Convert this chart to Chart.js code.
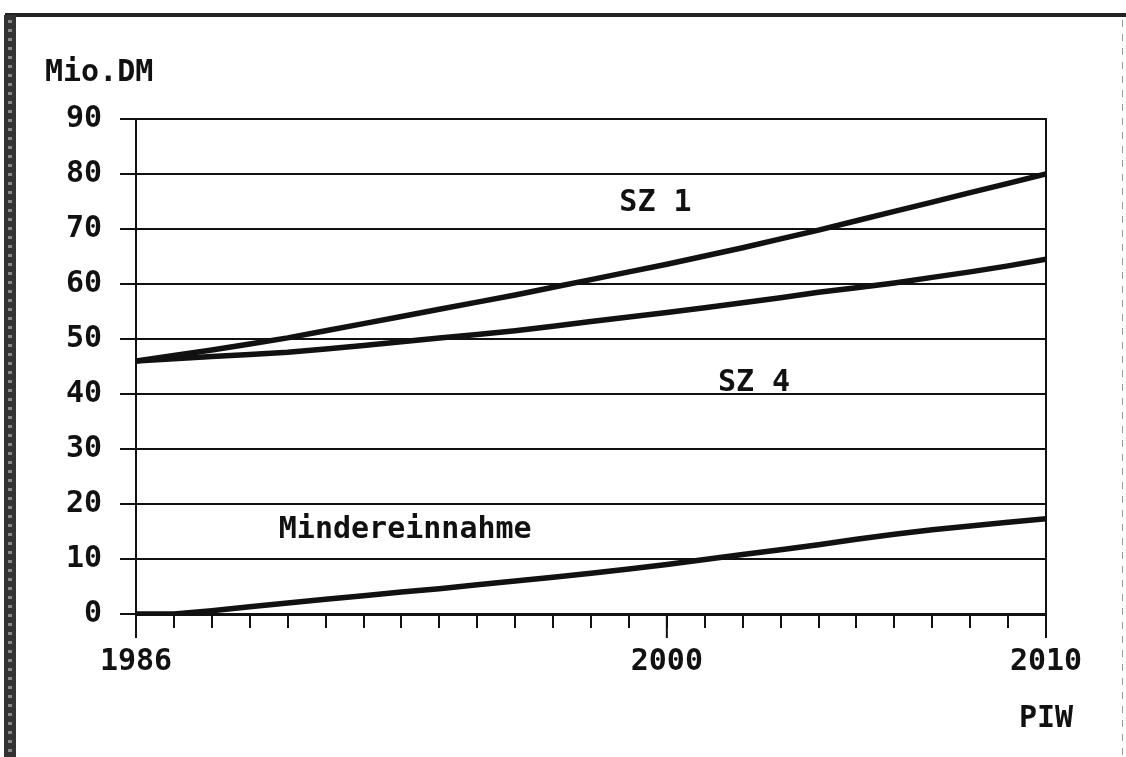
<!DOCTYPE html>
<html>
<head>
<meta charset="utf-8">
<script src="https://cdn.jsdelivr.net/npm/chart.js@4/dist/chart.umd.min.js"></script>
<style>
  html, body { margin: 0; padding: 0; background: #fff; }
  #wrap { width: 1126px; height: 757px; position: relative; }
</style>
</head>
<body>
<div id="wrap"><canvas id="c"></canvas></div>
<script>
const years = [1986,1987,1988,1989,1990,1991,1992,1993,1994,1995,1996,1997,1998,1999,2000,2001,2002,2003,2004,2005,2006,2007,2008,2009,2010];
const sz1 = [46,47,48,49.1,50.2,51.5,52.8,54.1,55.4,56.7,58,59.4,60.8,62.2,63.6,65.1,66.6,68.2,69.8,71.5,73.2,74.9,76.6,78.3,80];
const sz4 = [46,46.4,46.8,47.2,47.6,48.2,48.8,49.5,50.2,50.8,51.5,52.3,53.2,54,54.8,55.7,56.6,57.5,58.5,59.3,60.2,61.2,62.2,63.3,64.5];
const mindereinnahme = [0,0,0.6,1.3,2,2.7,3.3,4,4.6,5.3,6,6.7,7.4,8.2,9,9.9,10.8,11.7,12.6,13.6,14.5,15.3,16,16.7,17.3];
const xLabelYears = [1986, 2000, 2010];
const yTicks = [0,10,20,30,40,50,60,70,80,90];
const seriesLabels = [
  { text: 'SZ 1', x: 1999.7, y: 74.7 },
  { text: 'SZ 4', x: 2002.3, y: 42 },
  { text: 'Mindereinnahme', x: 1993.1, y: 15.3 }
];
const yUnit = 'Mio.DM';
const xUnit = 'PIW';

const FONT = '"DejaVu Sans Mono", monospace';
const INK = '#111';

const toXY = (arr) => arr.map((v, i) => ({ x: years[i], y: v }));

const decor = {
  id: 'decor',
  beforeDraw(chart) {
    const ctx = chart.ctx;
    ctx.save();
    // scanned page frame
    ctx.fillStyle = '#222';
    ctx.fillRect(5, 13, 1121, 4);
    ctx.fillStyle = '#333';
    ctx.fillRect(4, 15, 12, 742);
    ctx.fillStyle = '#888';
    for (let y = 20; y < 757; y += 9) ctx.fillRect(8, y, 4, 3);
    ctx.fillStyle = '#999';
    for (let y = 20; y < 757; y += 14) ctx.fillRect(1122, y, 1, 7);
    ctx.restore();
  },
  afterDraw(chart) {
    const ctx = chart.ctx;
    const xs = chart.scales.x, ys = chart.scales.y;
    ctx.save();
    // longer major ticks
    ctx.strokeStyle = INK;
    ctx.lineWidth = 2;
    xLabelYears.forEach(yr => {
      const px = xs.getPixelForValue(yr);
      ctx.beginPath();
      ctx.moveTo(px, ys.bottom);
      ctx.lineTo(px, ys.bottom + 24);
      ctx.stroke();
    });
    ctx.fillStyle = INK;
    ctx.font = 'bold 30px ' + FONT;
    ctx.textBaseline = 'middle';
    ctx.textAlign = 'center';
    seriesLabels.forEach(l => {
      ctx.fillText(l.text, xs.getPixelForValue(l.x), ys.getPixelForValue(l.y));
    });
    ctx.textAlign = 'left';
    ctx.fillText(yUnit, 45, 73);
    ctx.textAlign = 'center';
    ctx.fillText(xUnit, xs.right, 719);
    ctx.restore();
  }
};

new Chart(document.getElementById('c'), {
  type: 'line',
  data: {
    datasets: [
      { label: 'SZ 1', data: toXY(sz1), borderColor: INK, borderWidth: 5.5, pointRadius: 0, tension: 0 },
      { label: 'SZ 4', data: toXY(sz4), borderColor: INK, borderWidth: 5.5, pointRadius: 0, tension: 0 },
      { label: 'Mindereinnahme', data: toXY(mindereinnahme), borderColor: INK, borderWidth: 5.5, pointRadius: 0, tension: 0 }
    ]
  },
  options: {
    responsive: true,
    maintainAspectRatio: false,
    animation: false,
    layout: { padding: { top: 119, left: 0, right: 0, bottom: 0 } },
    plugins: { legend: { display: false }, tooltip: { enabled: false } },
    scales: {
      x: {
        type: 'linear',
        min: 1986, max: 2010,
        afterFit: s => { s.height = 143; },
        afterBuildTicks: s => { s.ticks = years.map(v => ({ value: v })); },
        grid: { drawOnChartArea: false, drawTicks: true, tickLength: 14, color: INK, lineWidth: 2 },
        border: { display: true, color: INK, width: 3 },
        ticks: {
          autoSkip: false, maxRotation: 0, padding: 16, color: INK,
          font: { family: FONT, size: 30, weight: 'bold' },
          callback: v => xLabelYears.includes(v) ? String(v) : ''
        }
      },
      y: {
        min: 0, max: 90,
        afterFit: s => { s.width = 136; },
        afterBuildTicks: s => { s.ticks = yTicks.map(v => ({ value: v })); },
        grid: { color: INK, lineWidth: 2, tickLength: 16 },
        border: { display: true, color: INK, width: 2 },
        ticks: {
          padding: 18, color: INK,
          font: { family: FONT, size: 30, weight: 'bold' },
          callback: v => String(v)
        }
      },
      yRight: {
        position: 'right',
        min: 0, max: 90,
        afterFit: s => { s.width = 80; },
        grid: { drawOnChartArea: false, drawTicks: false },
        border: { display: true, color: INK, width: 2 },
        ticks: { display: false }
      }
    }
  },
  plugins: [decor]
});
</script>
</body>
</html>
